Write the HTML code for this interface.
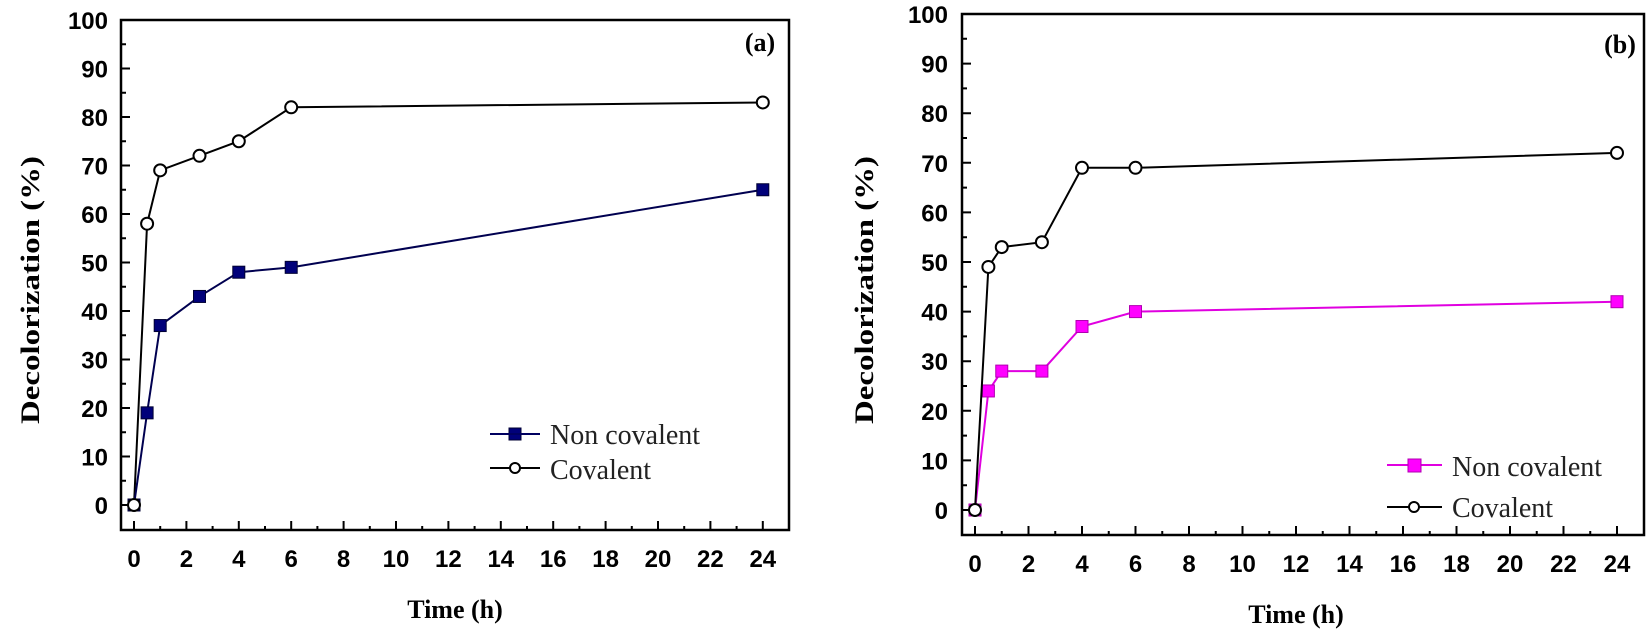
<!DOCTYPE html>
<html><head><meta charset="utf-8"><style>html,body{margin:0;padding:0;background:#fff}svg{display:block}</style></head><body>
<svg width="1646" height="644" viewBox="0 0 1646 644" xmlns="http://www.w3.org/2000/svg">
<g fill="none" stroke="#000" stroke-width="2.5">
<rect x="121" y="20" width="668" height="510"/>
<rect x="962" y="14" width="682" height="521"/>
</g>
<g stroke="#000" stroke-width="2">
<path d="M134 530v-9M186.4 530v-9M238.8 530v-9M291.2 530v-9M343.6 530v-9M396 530v-9M448.4 530v-9M500.8 530v-9M553.2 530v-9M605.6 530v-9M658 530v-9M710.4 530v-9M762.8 530v-9"/>
<path d="M160.2 530v-4M212.6 530v-4M265 530v-4M317.4 530v-4M369.8 530v-4M422.2 530v-4M474.6 530v-4M527 530v-4M579.4 530v-4M631.8 530v-4M684.2 530v-4M736.6 530v-4"/>
<path d="M121 505h9M121 456.5h9M121 408h9M121 359.5h9M121 311h9M121 262.5h9M121 214h9M121 165.5h9M121 117h9M121 68.5h9"/>
<path d="M121 480.75h5M121 432.25h5M121 383.75h5M121 335.25h5M121 286.75h5M121 238.25h5M121 189.75h5M121 141.25h5M121 92.75h5M121 44.25h5"/>
<path d="M975 535v-9M1028.5 535v-9M1082 535v-9M1135.5 535v-9M1189 535v-9M1242.5 535v-9M1296 535v-9M1349.5 535v-9M1403 535v-9M1456.5 535v-9M1510 535v-9M1563.5 535v-9M1617 535v-9"/>
<path d="M1001.75 535v-4M1055.25 535v-4M1108.75 535v-4M1162.25 535v-4M1215.75 535v-4M1269.25 535v-4M1322.75 535v-4M1376.25 535v-4M1429.75 535v-4M1483.25 535v-4M1536.75 535v-4M1590.25 535v-4"/>
<path d="M962 510h9M962 460.4h9M962 410.8h9M962 361.2h9M962 311.6h9M962 262h9M962 212.4h9M962 162.8h9M962 113.2h9M962 63.6h9"/>
<path d="M962 485.2h5M962 435.6h5M962 386h5M962 336.4h5M962 286.8h5M962 237.2h5M962 187.6h5M962 138h5M962 88.4h5M962 38.8h5"/>
</g>
<g font-family="Liberation Sans, sans-serif" font-weight="bold" font-size="24" fill="#000">
<g text-anchor="end">
<text x="108" y="514">0</text><text x="108" y="465.5">10</text><text x="108" y="417">20</text><text x="108" y="368.5">30</text><text x="108" y="320">40</text><text x="108" y="271.5">50</text><text x="108" y="223">60</text><text x="108" y="174.5">70</text><text x="108" y="126">80</text><text x="108" y="77.5">90</text><text x="108" y="29">100</text>
<text x="948" y="519">0</text><text x="948" y="469.4">10</text><text x="948" y="419.8">20</text><text x="948" y="370.2">30</text><text x="948" y="320.6">40</text><text x="948" y="271">50</text><text x="948" y="221.4">60</text><text x="948" y="171.8">70</text><text x="948" y="122.2">80</text><text x="948" y="72.6">90</text><text x="948" y="23">100</text>
</g>
<g text-anchor="middle">
<text x="134" y="567">0</text><text x="186.4" y="567">2</text><text x="238.8" y="567">4</text><text x="291.2" y="567">6</text><text x="343.6" y="567">8</text><text x="396" y="567">10</text><text x="448.4" y="567">12</text><text x="500.8" y="567">14</text><text x="553.2" y="567">16</text><text x="605.6" y="567">18</text><text x="658" y="567">20</text><text x="710.4" y="567">22</text><text x="762.8" y="567">24</text>
<text x="975" y="572">0</text><text x="1028.5" y="572">2</text><text x="1082" y="572">4</text><text x="1135.5" y="572">6</text><text x="1189" y="572">8</text><text x="1242.5" y="572">10</text><text x="1296" y="572">12</text><text x="1349.5" y="572">14</text><text x="1403" y="572">16</text><text x="1456.5" y="572">18</text><text x="1510" y="572">20</text><text x="1563.5" y="572">22</text><text x="1617" y="572">24</text>
</g>
</g>
<g font-family="Liberation Serif, serif" font-weight="bold" font-size="26" fill="#000">
<text transform="translate(39,290) rotate(-90)" text-anchor="middle" textLength="268" lengthAdjust="spacingAndGlyphs">Decolorization (%)</text>
<text transform="translate(873,290) rotate(-90)" text-anchor="middle" textLength="268" lengthAdjust="spacingAndGlyphs">Decolorization (%)</text>
<text x="455" y="618" text-anchor="middle">Time (h)</text>
<text x="1296" y="623" text-anchor="middle">Time (h)</text>
<text x="760" y="51" text-anchor="middle">(a)</text>
<text x="1620" y="53" text-anchor="middle">(b)</text>
</g>
<g font-family="Liberation Serif, serif" font-size="28" fill="#222">
<text x="550" y="444">Non covalent</text>
<text x="550" y="479">Covalent</text>
<text x="1452" y="476">Non covalent</text>
<text x="1452" y="517">Covalent</text>
</g>
<polyline fill="none" stroke="#000" stroke-width="2" points="134,505 147.1,223.7 160.2,170.35 199.5,155.8 238.8,141.25 291.2,107.3 762.8,102.45"/>
<polyline fill="none" stroke="#000050" stroke-width="2" points="134,505 147.1,412.85 160.2,325.55 199.5,296.45 238.8,272.2 291.2,267.35 762.8,189.75"/>
<g fill="#00007a" stroke="#000033" stroke-width="1">
<rect x="128" y="499" width="12" height="12"/><rect x="141.1" y="406.85" width="12" height="12"/><rect x="154.2" y="319.55" width="12" height="12"/><rect x="193.5" y="290.45" width="12" height="12"/><rect x="232.8" y="266.2" width="12" height="12"/><rect x="285.2" y="261.35" width="12" height="12"/><rect x="756.8" y="183.75" width="12" height="12"/>
<rect x="509" y="428" width="12" height="12"/>
</g>
<path d="M490 468h50M1387 507h55" stroke="#000" stroke-width="2"/>
<path d="M490 434h50" stroke="#000060" stroke-width="2"/>
<path d="M1387 465h55" stroke="#e000e0" stroke-width="2"/>
<g fill="#fff" stroke="#000" stroke-width="2">
<circle cx="134" cy="505" r="6"/><circle cx="147.1" cy="223.7" r="6"/><circle cx="160.2" cy="170.35" r="6"/><circle cx="199.5" cy="155.8" r="6"/><circle cx="238.8" cy="141.25" r="6"/><circle cx="291.2" cy="107.3" r="6"/><circle cx="762.8" cy="102.45" r="6"/>
<circle cx="515" cy="468" r="5"/>
</g>
<polyline fill="none" stroke="#e000e0" stroke-width="2" points="975,510 988.4,390.96 1001.75,371.1 1041.9,371.1 1082,326.5 1135.5,311.6 1617,301.7"/>
<g fill="#ff00ff" stroke="#b000b0" stroke-width="1">
<rect x="969" y="504" width="12" height="12"/><rect x="982.4" y="384.96" width="12" height="12"/><rect x="995.75" y="365.1" width="12" height="12"/><rect x="1035.9" y="365.1" width="12" height="12"/><rect x="1076" y="320.5" width="12" height="12"/><rect x="1129.5" y="305.6" width="12" height="12"/><rect x="1611" y="295.7" width="12" height="12"/>
<rect x="1408" y="459" width="13" height="13"/>
</g>
<polyline fill="none" stroke="#000" stroke-width="2" points="975,510 988.4,266.96 1001.75,247.1 1041.9,242.2 1082,167.8 1135.5,167.8 1617,152.9"/>
<g fill="#fff" stroke="#000" stroke-width="2">
<circle cx="975" cy="510" r="6"/><circle cx="988.4" cy="266.96" r="6"/><circle cx="1001.75" cy="247.1" r="6"/><circle cx="1041.9" cy="242.2" r="6"/><circle cx="1082" cy="167.8" r="6"/><circle cx="1135.5" cy="167.8" r="6"/><circle cx="1617" cy="152.9" r="6"/>
<circle cx="1414" cy="507" r="5"/>
</g>
</svg>
</body></html>
